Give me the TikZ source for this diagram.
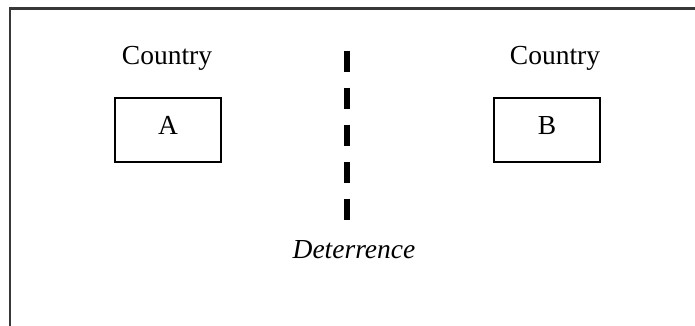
\documentclass[tikz,border=0pt]{standalone}
\usepackage{fontspec}
\setmainfont{Liberation Serif}
\begin{document}
\begin{tikzpicture}[x=1pt,y=-1pt,
  every node/.style={font=\fontsize{27.5}{32}\selectfont, inner sep=0pt},
  countrybox/.style={draw, line width=1.6pt, minimum width=106pt, minimum height=64pt, text height=18pt, text depth=10pt},
  caption/.style={anchor=base},
  frameline/.style={draw=black!78, line width=2.2pt},
  divider/.style={line width=6pt, dash pattern=on 21.7pt off 15.3pt}]
\useasboundingbox (0,0) rectangle (695,326);
\draw[frameline] (10,330) -- (10,8.5) -- (700,8.5);
\node[countrybox] (A) at (168,130) {A};
\node[countrybox] (B) at (547,130) {B};
\node[caption] (cA) at (167,65) {Country};
\node[caption] (cB) at (555,65) {Country};
\coordinate (dtop) at (346.7,50.7);
\coordinate (dbot) at (346.7,221);
\draw[divider] (dtop) -- (dbot);
\node[caption, font=\fontsize{27.5}{32}\selectfont\itshape] (det) at (354,258) {Deterrence};
\end{tikzpicture}
\end{document}
